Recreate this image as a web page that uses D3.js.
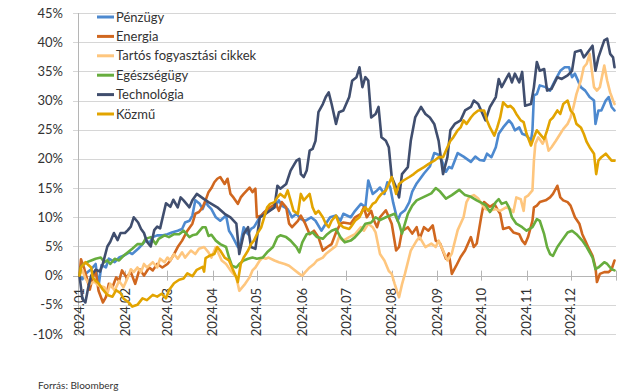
<!DOCTYPE html>
<html>
<head>
<meta charset="utf-8">
<script src="https://cdn.jsdelivr.net/npm/d3@7"></script>
<style>
  body { margin: 0; background: #fff; }
  svg text { font-family: Lato, "Noto Sans", sans-serif; fill: #333; }
</style>
</head>
<body>
<svg id="chart" width="621" height="392"></svg>
<script>
// Cumulative 2024 sector returns (%), sampled as [day of year, value]
const penzugy = [[0,0],[2,-0.6],[4,0.3],[8,1.1],[11,2],[13,-1.8],[15,1.8],[18,1.4],[20,2.9],[24,2.3],[27,3.1],[30,3.4],[34,4],[36,3.7],[40,4.6],[43,5.4],[45,6],[48,5.7],[50,6.6],[53,6.9],[57,6.9],[60,7.1],[63,7.4],[67,7.7],[70,8],[72,9.1],[75,9.4],[77,10.3],[79,12.9],[82,12.3],[84,11.4],[86,12.6],[88,11.9],
  [90,11.4],[93,10],[96,9.4],[100,10.3],[102,7.7],[104,6.9],[108,4.9],[110,5.7],[112,8.3],[115,7.1],[117,8],[119,8.3],[123,10],[126,10.9],[129,11.1],[133,11.7],[136,12.9],[138,12],[142,11.4],[145,10],[148,10.6],[151,9.7],[154,9.4],[158,10],[161,9.4],[165,7.7],[168,8.9],[171,10],[175,10.3],[178,9.4],[180,10.6],
  [185,10],[188,11.1],[192,12.3],[195,11.7],[197,16.3],[200,14],[203,14.6],[205,15.1],[208,14],[210,16],[212,15.1],[214,12.5],[217,9.4],[219,10.6],[222,11.2],[225,12.6],[227,14.4],[230,15.8],[235,17.5],[239,18.7],[242,21],[245,20.7],[247,19.8],[250,17.8],[252,18.6],[254,18.4],[258,21],[262,20.4],[267,19.5],[270,20.4],[273,19.8],
  [276,19.7],[278,20.9],[281,20.3],[284,22],[286,24.3],[289,25.4],[293,26.6],[295,26],[297,24.9],[300,25.4],[302,24.3],[305,24],[308,23.1],[309,24.9],[310,30.9],[312,31.1],[314,32.6],[318,32.3],[321,31.7],[325,33.7],[328,35.1],[331,35.7],[334,35.7],[336,34],[338,34.6],[342,32.3],[345,31.7],[348,30.6],[351,30],[352,26],[354,28.3],[356,28.3],[359,30],[361,30.6],[363,28.9],[365,28.3]];

const energia = [[0,0],[1,2.8],[3,1.4],[5.5,-0.9],[7,-2.4],[9,-0.3],[11,0.9],[13,-2.6],[16,-4.6],[18,-3.7],[20,-1.4],[22.5,-2],[25,-0.3],[27,-0.9],[29,0.9],[32,-0.3],[35,0.6],[38,-1.4],[41,1.1],[44,0],[47.5,1.4],[50,0.9],[53,2],[56.5,1.4],[60,2],[62,2.6],[64.5,3.7],[67,4.9],[70,6],[73.6,7.7],[77,8.9],[79,10.6],[81.5,10.9],[84,11.7],[86,12.9],[88,14.3],
  [90,15],[92,16],[94,16.6],[96,16.9],[99,15.7],[101,16.6],[103,14],[105,13.4],[108,12.3],[110,13.4],[112,14],[116,15.1],[118,14.3],[120,14.9],[121,10],[124,10.3],[127,11.1],[130,11.7],[134,12.3],[136,11.1],[138,12.6],[141,11.7],[143,8.9],[145,8.3],[149,9.4],[151,10.3],[154,8.9],[157,7.1],[160,7.7],[163,6.6],[166,4.3],[169,4.9],[172,5.4],[175,7.4],[178,8.9],[180,9.1],
  [185,8.9],[188,10],[192,10.6],[194,11.7],[196,10],[199,11.1],[201,9.4],[203,8.3],[205,10],[209,11.2],[213,8.9],[216,4.3],[218,4.9],[220,7.6],[224,8.3],[227,7.2],[230,8.3],[232,6.3],[235,8.3],[238,7.7],[241,8.6],[243,6],[246,5.5],[250,2.9],[252,3.8],[254,0.3],[257,1.7],[260,3.2],[263,4.3],[267,6.6],[269,4.9],[271,5.5],[274,10],
  [276,12.6],[278,12.2],[280,11.8],[283,12.3],[285,11.4],[287,10.6],[289,8],[293,8.3],[296,7.4],[300,7.1],[302,6],[304,5.4],[306,6.6],[309,9.4],[310,11.7],[312,12],[314,12.6],[318,12.9],[321,13.4],[323,14],[326,15.4],[328,13.4],[330,12.9],[333,12.6],[335,12],[338,10],[341,8.9],[343,7.1],[345,6],[347,4.9],[350,3.4],[352,1.4],[353,-1.1],[355,0.3],[358,0.6],[361,0.6],[363,1.1],[365,2.6]];

const tartos = [[0,0],[2,1],[4,-0.5],[7,-1.5],[10,-1],[13,-1.7],[17,-2],[19,-3.1],[21,-1.4],[24,-2.6],[27,-0.9],[30,-2],[33,-0.3],[35,1.1],[37,0.6],[39.5,1.4],[42,0.6],[44,2],[46,1.4],[50,2.3],[53,1.4],[55,2.9],[58,2.3],[60,3.1],[62,2.6],[64.5,3.7],[67,2.9],[70,4],[72,3.1],[76,4.3],[79,3.7],[81.5,4.6],[85,4.9],[88,4],
  [90,3.1],[93,4.9],[95,3.7],[97,2.6],[100,2],[103,0.9],[107,-0.3],[109,-2.6],[111,-2],[113,-1.4],[116,-0.3],[118,0.9],[120,1.4],[123,2.6],[125,3.1],[127,2.9],[129,3.1],[133,2.6],[136,2.3],[140,2],[143,1.7],[146,1.1],[150,0.3],[152,0],[154,0.6],[157,1.4],[160,2],[162,2.6],[166,3.1],[168,3.7],[171,4.3],[175,5.1],[177,6.6],[180,6],
  [184,6.6],[188,7.1],[192,8.3],[194,7.7],[197,8.9],[200,8.3],[202,7.4],[205,3.7],[208,2.6],[211,0.8],[213,0.3],[215,-1.4],[218,-3.7],[220,-1.5],[222,0.3],[226,4.3],[230,6],[232,6.6],[236,4.9],[240,5.5],[243,4.9],[245,6],[248,4.3],[251,2.6],[254,3.8],[258,7.8],[262,10],[264,12.6],[266,13.5],[269,13.8],[272,13.2],
  [276,11.7],[277,11.4],[280,11.1],[284,11.4],[287,11.1],[291,11.7],[294,11.4],[296,10.9],[298,13.4],[301,13.1],[303,11.1],[304,13.4],[306,13.7],[309,14.6],[310,19.7],[311,22.6],[313,23.7],[316,22.6],[318,23.7],[320,21.4],[322,22],[325,23.1],[328,24.3],[330,25.1],[333,26],[335,27.1],[337,28.9],[339,31.1],[342,33.4],[344,35.7],[346,36.3],[348,38],[351,32.3],[353,31.7],[355,32.3],[358,36],[360,33.4],[362,31.4],[364,30],[365,29.4]];

const egeszseg = [[0,0],[1,1.5],[3,2],[6,2.4],[8,2.6],[11,2.9],[14.5,3.1],[17,2.3],[19,2.6],[21,2],[24,2.9],[27,2.6],[30,3.4],[33,4],[36,4.6],[39.5,5.4],[43,5.4],[45,6.3],[48.6,6.6],[52,5.4],[54,6.3],[58,6.9],[61,6.6],[64.5,7.1],[68,7.1],[71,7.7],[75,6.6],[77,6.9],[80,7.1],[84,8.3],[86,8.3],[88,6.8],
  [90,7],[93,6],[96,5.4],[100,4.9],[102,3.1],[104,1.7],[107,1.4],[109,2],[112,2.6],[115,2.9],[118,3.1],[121,2.9],[125,3.1],[128,4],[132,4.9],[135,6.6],[137,6.9],[141,6.6],[144,6],[148,4.9],[150,4],[152,5.7],[155,7.1],[159,7.4],[162,6.6],[166,6.3],[169,7.1],[172,7.7],[175,8],[178,6.6],[181,5.7],
  [185,6],[188,6.6],[192,7.7],[195,8.9],[199,9.1],[202,10],[205,9.5],[209,10],[212,10.3],[215,10.6],[218,8.9],[220,7.2],[224,10.6],[227,12],[230,12.9],[235,13.5],[240,14.1],[243,15],[246,14.4],[250,13.2],[254,13.8],[259,14.7],[263,13.8],[267,13.5],[271,12.9],[274,12.5],
  [277,12.1],[280,10.9],[282,11.7],[284,12.6],[286,13.1],[288,12.3],[291,12.6],[293,11.7],[295,10],[298,8.9],[302,8.3],[305,7.7],[309,8.3],[312,9.7],[314,9.4],[317,7.1],[319,4.9],[321,3.7],[323,3.4],[326,4.9],[329,6],[333,7.4],[336,7.7],[339,7.1],[343,6],[346,4.9],[350,3.1],[352,1.1],[354,1.4],[358,2.3],[360,2],[363,1.1],[365,0.9]];

const technologia = [[0,0],[2,-4],[4,-4.6],[6,-2],[8,0],[11,1],[14,0.7],[16,2.1],[19,5],[21,5.8],[23.5,7.3],[26,6.1],[28,7.3],[31,7.3],[33,7.8],[35,8.4],[37,10],[40,9.1],[42,8],[44,7.3],[46,5.8],[48.6,5],[51,7.8],[53,8.4],[55,8.1],[59,12.4],[62,11.8],[64,13],[67,11.7],[69,13.4],[71,12.9],[75,11.7],[77,12.9],[80,14],[85,13.1],[88,12.6],
  [90,12.3],[94,11.7],[99,10.6],[103,10],[107,8.9],[109,3.7],[112,7.1],[115,8.3],[117,4.9],[120,4.6],[123,10],[127,10.6],[133,11.7],[135,15.4],[137,14.9],[141,15.7],[144,18],[148,19.7],[150,20],[151,17.4],[153,16.9],[155,18],[157,21.4],[159,21.7],[161,23.1],[163,28],[166,29.4],[168,30.6],[170,31.4],[172,29.4],[175,26],[177,28],[180,28.3],
  [184,30.6],[186,33.4],[189,34],[191,35.7],[193,32.3],[195,34],[197,33.4],[199,27.1],[202,27.7],[204,28.9],[206,23.7],[209,23.1],[211,22],[213,16.9],[216,15.1],[218,13.4],[220,17.4],[224,18.6],[226,23.1],[229,27.1],[233,28.9],[236,27.7],[239,27.1],[242,26],[245,23.1],[248,17.4],[251,20.3],[253,24.9],[256,26],[260,26.6],[263,28.3],[267,28.9],[269,30],[272,29.4],
  [277,26.6],[280,28.9],[284,30.6],[286,33.7],[288,32.3],[291,33.7],[293,34.6],[295,33.1],[297,34.6],[300,33.1],[302,34.9],[304,29.1],[308,29.4],[310,32.3],[312,36.6],[314,35.1],[317,35.4],[319,31.7],[322,32],[326,34],[329,33.7],[333,34.3],[336,35.1],[338,38.3],[342,38.6],[344,37.4],[346,38],[350,39.4],[352,35.1],[354,37.4],[358,40.3],[360,40.6],[362,38],[364,37.4],[365,35.7]];

const kozmu = [[0,0],[1,1.4],[4,2.3],[8,1.4],[9,-0.3],[11,-0.9],[13,-1.3],[16,-2.4],[19,-3.3],[22.5,-3.6],[25,-2.5],[28,-3],[30,-3.9],[34,-4.7],[36,-5.3],[39.5,-5],[43,-3.9],[46,-4.2],[50,-3.3],[53,-3.6],[56,-3.1],[59,-3.9],[61,-2.5],[64.5,-1.3],[68,-0.7],[71,-0.5],[73.6,0.4],[77,-0.1],[80,1],[84,1.5],[85,0.7],[86,3],[89.5,3.5],
  [92,3.7],[94,4.9],[96,4.3],[99,3.1],[102,2.6],[104,1.4],[107,-0.3],[108,-1.1],[110,2],[112,3.1],[115,4.3],[117,5.4],[119,6],[121,7.1],[124,8.3],[126,10],[128,11.7],[130,12.3],[133,12.6],[135,13.4],[137,14],[140,13.4],[142,14.6],[144,12.9],[146,11.1],[149,10.6],[151,14],[153,12.9],[157,14],[159,11.7],[161,10.6],[163,11.1],[166,10],[168,8.9],[170,8.3],[172,9.4],[175,10.3],[177,8.9],[180,8.3],
  [184,8],[185,8.3],[188,9.4],[191,10],[193,11.1],[195,11.7],[197,11.1],[200,12.3],[202,12.6],[204,13.4],[206,14],[209,14.6],[211,15.7],[213,16.9],[216,14],[218,15.7],[221,16.3],[225,16.9],[228,17.4],[231,18],[235,18.6],[238,19.1],[242,19.7],[245,20.3],[248,20.3],[251,22],[253,23.1],[255,23.7],[258,24.9],[260,25.4],[262,26.6],[264,26],[267,27.1],[269,27.7],[272,28.3],
  [276,28.3],[278,26.6],[280,25.4],[283,24],[285,25.4],[287,27.1],[289,29.7],[292,28.9],[294,29.1],[296,28.6],[298,27.7],[301,26.6],[303,26.3],[305,24.3],[308,22.3],[310,23.7],[312,24.9],[314,24.3],[317,23.4],[319,24.9],[321,26.6],[323,27.1],[326,28.3],[328,27.7],[330,29.4],[333,30],[335,28.3],[337,27.7],[339,26],[342,25.4],[344,24.3],[346,22.9],[348,22],[351,20.9],[352.5,17.4],[354,19.7],[356,20.3],[359,20.9],[361,20.3],[363,19.7],[365,19.7]];

const seriesNames = ["Pénzügy", "Energia", "Tartós fogyasztási cikkek", "Egészségügy", "Technológia", "Közmű"];
const seriesValues = [penzugy, energia, tartos, egeszseg, technologia, kozmu];
const seriesColors = ["#4d89cf", "#d0671f", "#fec67e", "#67ad3e", "#404e6e", "#e2a400"];

const monthLabels = ["2024.01","2024.02","2024.03","2024.04","2024.05","2024.06","2024.07","2024.08","2024.09","2024.10","2024.11","2024.12"];
const yTickValues = [-10, -5, 0, 5, 10, 15, 20, 25, 30, 35, 40, 45];
const sourceText = "Forrás: Bloomberg";

const svg = d3.select("#chart");
const yearStart = new Date(2024, 0, 1);
const yearEnd = new Date(2025, 0, 1);
const toDate = d => new Date(yearStart.getTime() + d * 864e5);

const x = d3.scaleTime().domain([yearStart, yearEnd]).range([79.5, 616]);
const y = d3.scaleLinear().domain([-10, 45]).range([334, 13]);

// horizontal gridlines with small left ticks
svg.append("g").selectAll("line").data(yTickValues).join("line")
  .attr("x1", 73).attr("x2", 616)
  .attr("y1", d => Math.round(y(d)) + 0.5).attr("y2", d => Math.round(y(d)) + 0.5)
  .attr("stroke", d => d === 0 ? "#b5b5b5" : "#d6d6d6").attr("stroke-width", 1);

// y axis line
svg.append("line").attr("x1", 78.5).attr("x2", 78.5).attr("y1", y(45)).attr("y2", y(-10))
  .attr("stroke", "#b5b5b5");

// y tick labels
svg.append("g").selectAll("text").data(yTickValues).join("text")
  .attr("x", 63).attr("y", d => y(d)).attr("dy", "0.35em")
  .attr("text-anchor", "end").attr("font-size", 13)
  .text(d => d + "%");

// month ticks crossing the zero line
const monthStarts = d3.timeMonth.range(yearStart, d3.timeDay.offset(yearEnd, 1));
svg.append("g").selectAll("line").data(monthStarts).join("line")
  .attr("x1", d => Math.round(x(d)) + 0.5).attr("x2", d => Math.round(x(d)) + 0.5)
  .attr("y1", y(0) - 5).attr("y2", y(0) + 5)
  .attr("stroke", "#b5b5b5");

// rotated month labels
svg.append("g").selectAll("text").data(monthLabels).join("text")
  .attr("transform", (d, i) => `translate(${x(monthStarts[i])},288) rotate(-90)`)
  .attr("text-anchor", "end").attr("dy", "0.35em").attr("font-size", 13)
  .text(d => d);

// series lines
const line = d3.line().x(d => x(toDate(d[0]))).y(d => y(d[1])).curve(d3.curveLinear);
svg.append("g").selectAll("path").data(seriesValues).join("path")
  .attr("d", line).attr("fill", "none")
  .attr("stroke", (d, i) => seriesColors[i])
  .attr("stroke-width", 2.6).attr("stroke-linejoin", "round").attr("stroke-linecap", "round");

// legend
const legend = svg.append("g").selectAll("g").data(seriesNames).join("g")
  .attr("transform", (d, i) => `translate(97,${17 + i * 19.4})`);
legend.append("line").attr("x1", 0).attr("x2", 17).attr("y1", 0).attr("y2", 0)
  .attr("stroke", (d, i) => seriesColors[i]).attr("stroke-width", 3);
legend.append("text").attr("x", 19).attr("dy", "0.35em").attr("font-size", 13).text(d => d);

// source note
svg.append("text").attr("x", 38).attr("y", 389).attr("font-size", 10).attr("fill", "#444").text(sourceText);
</script>
</body>
</html>
